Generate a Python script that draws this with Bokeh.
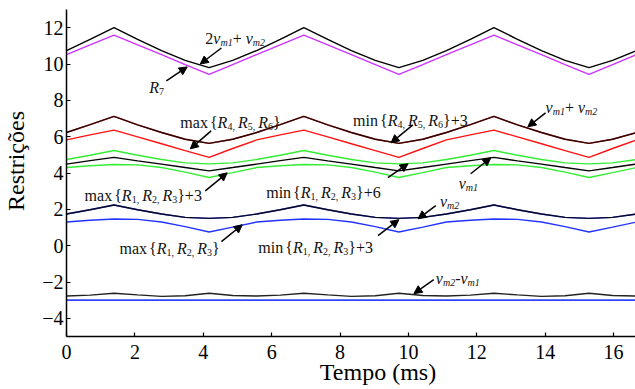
from bokeh.plotting import figure
from bokeh.models import Range1d, ColumnDataSource, Arrow, NormalHead, FixedTicker
from bokeh.core.properties import value
from bokeh.embed import file_html
from bokeh.resources import INLINE

# ---------------- data ----------------
t = [0.00, 0.69, 1.39, 2.08, 2.78, 3.47, 4.17, 4.86, 5.56, 6.25, 6.94, 7.64, 8.33,
     9.03, 9.72, 10.42, 11.11, 11.81, 12.50, 13.19, 13.89, 14.58, 15.28, 15.97, 16.67]

two_vm1_vm2 = [10.74, 11.36, 12.00, 11.36, 10.74, 10.20, 9.80, 10.20,
               10.74, 11.36, 12.00, 11.36, 10.74, 10.20, 9.80, 10.20,
               10.74, 11.36, 12.00, 11.36, 10.74, 10.20, 9.80, 10.20, 10.74]
r7 = [10.52, 11.05, 11.59, 11.05, 10.52, 9.97, 9.43, 9.97,
      10.52, 11.05, 11.59, 11.05, 10.52, 9.97, 9.43, 9.97,
      10.52, 11.05, 11.59, 11.05, 10.52, 9.97, 9.43, 9.97, 10.52]
vm1_vm2 = [6.23, 6.66, 7.12, 6.65, 6.23, 5.86, 5.63, 5.86,
           6.23, 6.66, 7.12, 6.65, 6.23, 5.86, 5.63, 5.86,
           6.23, 6.66, 7.12, 6.65, 6.23, 5.86, 5.63, 5.86, 6.23]
min_r456_p3 = [6.23, 6.66, 7.12, 6.65, 6.23, 5.86, 5.63, 5.86,
               6.23, 6.66, 7.12, 6.65, 6.23, 5.86, 5.63, 5.86,
               6.23, 6.66, 7.12, 6.65, 6.23, 5.86, 5.63, 5.86, 6.23]
max_r456 = [5.82, 6.10, 6.36, 5.99, 5.61, 5.23, 4.86, 5.35,
            5.82, 6.10, 6.36, 5.99, 5.61, 5.23, 4.86, 5.35,
            5.82, 6.10, 6.36, 5.99, 5.61, 5.23, 4.86, 5.35, 5.82]
min_r123_p6 = [4.74, 4.98, 5.24, 4.98, 4.74, 4.56, 4.50, 4.56,
               4.74, 4.98, 5.24, 4.98, 4.74, 4.56, 4.50, 4.56,
               4.74, 4.98, 5.24, 4.98, 4.74, 4.56, 4.50, 4.56, 4.74]
vm1 = [4.49, 4.68, 4.86, 4.67, 4.49, 4.30, 4.12, 4.30,
       4.49, 4.68, 4.86, 4.67, 4.49, 4.30, 4.12, 4.30,
       4.49, 4.68, 4.86, 4.67, 4.49, 4.30, 4.12, 4.30, 4.49]
max_r123_p3 = [4.30, 4.40, 4.47, 4.45, 4.30, 4.05, 3.75, 4.02,
               4.30, 4.40, 4.47, 4.45, 4.30, 4.05, 3.75, 4.02,
               4.30, 4.40, 4.47, 4.45, 4.30, 4.05, 3.75, 4.02, 4.30]
vm2 = [1.74, 1.98, 2.24, 1.98, 1.74, 1.56, 1.50, 1.56,
       1.74, 1.98, 2.24, 1.98, 1.74, 1.56, 1.50, 1.56,
       1.74, 1.98, 2.24, 1.98, 1.74, 1.56, 1.50, 1.56, 1.74]
min_r123_p3 = [1.74, 1.98, 2.24, 1.98, 1.74, 1.56, 1.50, 1.56,
               1.74, 1.98, 2.24, 1.98, 1.74, 1.56, 1.50, 1.56,
               1.74, 1.98, 2.24, 1.98, 1.74, 1.56, 1.50, 1.56, 1.74]
max_r123 = [1.30, 1.40, 1.47, 1.45, 1.30, 1.05, 0.75, 1.02,
            1.30, 1.40, 1.47, 1.45, 1.30, 1.05, 0.75, 1.02,
            1.30, 1.40, 1.47, 1.45, 1.30, 1.05, 0.75, 1.02, 1.30]
vm2_vm1 = [-2.77, -2.72, -2.62, -2.71, -2.79, -2.76, -2.62, -2.74,
           -2.77, -2.72, -2.62, -2.71, -2.79, -2.76, -2.62, -2.74,
           -2.77, -2.72, -2.62, -2.71, -2.79, -2.76, -2.62, -2.74, -2.77]
t_flat = [0.00, 16.67]
lower_limit = [-3.00, -3.00]

x_ticks = [0, 2, 4, 6, 8, 10, 12, 14, 16]
y_ticks = [-4, -2, 0, 2, 4, 6, 8, 10, 12]

FONT = "Liberation Serif"
NB = "\u00a0"

p = figure(width=635, height=389, x_range=Range1d(0, 16.64), y_range=Range1d(-5, 13),
           output_backend="svg", toolbar_location=None,
           min_border_left=65, min_border_right=0, min_border_top=9, min_border_bottom=53)
p.outline_line_color = None
p.xgrid.visible = False
p.ygrid.visible = False
p.background_fill_color = "white"
p.border_fill_color = "white"

for axes, ticks in ((p.xaxis, x_ticks), (p.yaxis, y_ticks)):
    axes.ticker = FixedTicker(ticks=ticks)
    axes.major_tick_in = 4
    axes.major_tick_out = 0
    axes.minor_tick_in = 0
    axes.minor_tick_out = 0
    axes.axis_line_width = 1.5
    axes.major_tick_line_width = 1.2
    axes.major_label_text_font = FONT
    axes.major_label_text_font_size = "20px"
    axes.major_label_text_font_style = "normal"
    axes.major_label_text_color = "black"
    axes.axis_line_color = "black"
    axes.major_tick_line_color = "black"
    axes.axis_label_text_font = FONT
    axes.axis_label_text_font_size = "24px"
    axes.axis_label_text_font_style = "normal"
    axes.axis_label_text_color = "black"

p.xaxis.axis_label = NB * 9 + "Tempo (ms)"
p.yaxis.axis_label = NB * 4 + "Restrições"
p.xaxis.major_label_standoff = 8
p.yaxis.major_label_standoff = 3
p.xaxis.axis_label_standoff = -3
p.yaxis.axis_label_standoff = 10

# ---------------- lines ----------------
lw = 1.4
p.line(t_flat, lower_limit, line_color="#3344ff", line_width=lw + 0.4)
p.line(t, vm2_vm1, line_color="#222222", line_width=lw)
p.line(t, max_r123, line_color="#2233ff", line_width=lw)
p.line(t, min_r123_p3, line_color="#2233ff", line_width=lw)
p.line(t, vm2, line_color="black", line_width=lw, line_alpha=0.85)
p.line(t, max_r123_p3, line_color="#33ee33", line_width=lw)
p.line(t, vm1, line_color="black", line_width=lw)
p.line(t, min_r123_p6, line_color="#33ee33", line_width=lw)
p.line(t, max_r456, line_color="#ff1111", line_width=lw)
p.line(t, min_r456_p3, line_color="#ff1111", line_width=lw)
p.line(t, vm1_vm2, line_color="black", line_width=lw, line_alpha=0.85)
p.line(t, r7, line_color="#cc33ff", line_width=lw)
p.line(t, two_vm1_vm2, line_color="black", line_width=lw)

# ---------------- rich text labels ----------------
W_N = {"m": 0.778, "a": 0.444, "x": 0.5, "i": 0.278, "n": 0.5, "{": 0.48, "}": 0.48,
       ",": 0.25, "+": 0.564, " ": 0.25, "-": 0.333}
W_I = {"R": 0.611, "v": 0.444, "m": 0.722, ",": 0.25, " ": 0.25}
STYLES = {"n": (16, "normal", 0), "i": (16, "italic", 0),
          "sn": (10, "normal", 4), "si": (10, "italic", 4)}
srcs = {k: dict(x=[], y=[], text=[], xo=[], yo=[]) for k in STYLES}


def add_label(x, y, pieces):
    off = 0.0
    for s, k in pieces:
        if k == "gap":
            off += s
            continue
        size, style, dy = STYLES[k]
        d = srcs[k]
        d["x"].append(x); d["y"].append(y); d["text"].append(s)
        d["xo"].append(off); d["yo"].append(dy)
        tab = W_I if style == "italic" else W_N
        off += sum(tab.get(c, 0.5) for c in s) * size


def rset(a, b, c):
    return [("R", "i"), (a, "sn"), (3, "gap"), ("R", "i"), (b, "sn"), (3, "gap"), ("R", "i"), (c, "sn")]


add_label(4.06, 11.43, [("2", "n"), ("v", "i"), ("m1", "si"), ("+ ", "n"), ("v", "i"), ("m2", "si")])
add_label(2.42, 8.68, [("R", "i"), ("7", "sn")])
add_label(3.33, 6.76, [("max", "n"), (2, "gap"), ("{", "n")] + rset("4,", "5,", "6") + [("}", "n")])
add_label(8.38, 6.87, [("min", "n"), (2, "gap"), ("{", "n")] + rset("4,", "5,", "6") + [("}+3", "n")])
add_label(14.01, 7.58, [("v", "i"), ("m1", "si"), (" +", "n"), ("v", "i"), ("m2", "si")])
add_label(0.53, 2.75, [("max", "n"), (2, "gap"), ("{", "n")] + rset("1,", "2,", "3") + [("}+3", "n")])
add_label(5.84, 2.91, [("min", "n"), (2, "gap"), ("{", "n")] + rset("1,", "2,", "3") + [("}+6", "n")])
add_label(11.47, 3.41, [("v", "i"), ("m1", "si")])
add_label(10.92, 2.42, [("v", "i"), ("m2", "si")])
add_label(1.55, -0.16, [("max", "n"), (2, "gap"), ("{", "n")] + rset("1,", "2,", "3") + [("}", "n")])
add_label(5.61, -0.11, [("min", "n"), (2, "gap"), ("{", "n")] + rset("1,", "2,", "3") + [("}+3", "n")])
add_label(10.80, -1.81, [("v", "i"), ("m2", "si"), ("-", "n"), ("v", "i"), ("m1", "si")])

for k, (size, style, dy) in STYLES.items():
    src = ColumnDataSource(srcs[k])
    p.text(x="x", y="y", text="text", x_offset="xo", y_offset="yo", source=src,
           text_font=value(FONT), text_font_size=value(f"{size}px"), text_font_style=style,
           text_color="#111111", text_align="left", text_baseline="alphabetic")

# ---------------- arrows ----------------
arrows = [
    (4.53, 10.88, 3.91, 10.00),
    (2.92, 9.07, 3.53, 9.84),
    (4.23, 6.32, 3.62, 5.33),
    (10.13, 6.65, 9.49, 5.66),
    (14.01, 7.31, 13.49, 6.54),
    (4.06, 3.02, 4.70, 4.01),
    (9.40, 3.74, 9.99, 4.51),
    (11.82, 3.96, 12.41, 4.84),
    (10.80, 2.20, 10.28, 1.48),
    (4.53, 0.22, 5.14, 1.15),
    (9.11, 0.55, 9.72, 1.43),
    (10.74, -1.87, 10.16, -2.64),
]
for xs, ys, xe, ye in arrows:
    p.add_layout(Arrow(end=NormalHead(size=8, fill_color="black", line_color="black", line_width=1),
                       x_start=xs, y_start=ys, x_end=xe, y_end=ye,
                       line_color="black", line_width=1.5))

open("out.html", "w").write(file_html(p, INLINE))
